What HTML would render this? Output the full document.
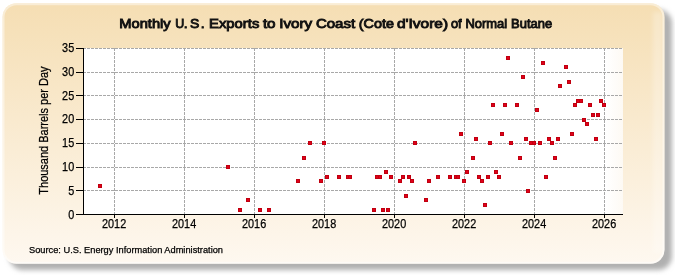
<!DOCTYPE html>
<html><head><meta charset="utf-8"><style>
html,body{margin:0;padding:0;background:#fff;overflow:hidden;}
svg{display:block;will-change:transform;}
text{font-family:"Liberation Sans",sans-serif;fill:#000;stroke:#000;stroke-width:0.25px;}
</style></head><body>
<svg width="675" height="275" viewBox="0 0 675 275">
<defs>
<linearGradient id="pg" x1="0" y1="0" x2="1" y2="0"><stop offset="0" stop-color="#FBF3E6" stop-opacity="0"/><stop offset="1" stop-color="#FBF3E6" stop-opacity="0.45"/></linearGradient>
<linearGradient id="bg" x1="0" y1="0" x2="0" y2="1">
<stop offset="0" stop-color="#F5DEB3"/>
<stop offset="1" stop-color="#FEF8F0"/>
</linearGradient>
<filter id="sh" x="-5%" y="-5%" width="110%" height="115%">
<feGaussianBlur stdDeviation="2.6"/>
</filter>
<filter id="sb" x="-50%" y="-5%" width="200%" height="110%"><feGaussianBlur stdDeviation="2"/></filter>
<filter id="pb" x="-5%" y="-5%" width="110%" height="115%">
<feGaussianBlur stdDeviation="0.65"/>
</filter>
</defs>
<rect x="0" y="0" width="675" height="275" fill="#ffffff"/>
<rect x="9" y="9.5" width="663" height="260.5" rx="14" ry="14" fill="#b0b0b0" filter="url(#sh)"/>
<g filter="url(#pb)">
<rect x="2.5" y="3.2" width="662" height="260.6" rx="14" ry="14" fill="url(#bg)"/>
<rect x="653" y="12" width="10" height="240" fill="#ffffff" fill-opacity="0.25" filter="url(#sb)"/>
<rect x="3.5" y="4.2" width="660" height="258.6" rx="13" ry="13" fill="none" stroke="#ffffff" stroke-opacity="0.45" stroke-width="2"/>
</g>

<rect x="84" y="48" width="539" height="166" fill="#ffffff"/>
<rect x="606" y="48" width="17" height="166" fill="url(#pg)"/>
<g stroke="#a8a8a8" stroke-width="1" stroke-dasharray="3 1" shape-rendering="crispEdges"><line x1="83" y1="190.5" x2="623" y2="190.5"/><line x1="83" y1="167.5" x2="623" y2="167.5"/><line x1="83" y1="143.5" x2="623" y2="143.5"/><line x1="83" y1="119.5" x2="623" y2="119.5"/><line x1="83" y1="95.5" x2="623" y2="95.5"/><line x1="83" y1="72.5" x2="623" y2="72.5"/><line x1="83" y1="48.5" x2="623" y2="48.5"/><line x1="114.5" y1="48" x2="114.5" y2="214"/><line x1="184.5" y1="48" x2="184.5" y2="214"/><line x1="254.5" y1="48" x2="254.5" y2="214"/><line x1="324.5" y1="48" x2="324.5" y2="214"/><line x1="394.5" y1="48" x2="394.5" y2="214"/><line x1="464.5" y1="48" x2="464.5" y2="214"/><line x1="534.5" y1="48" x2="534.5" y2="214"/><line x1="604.5" y1="48" x2="604.5" y2="214"/></g>
<g fill="#000" shape-rendering="crispEdges"><rect x="83" y="48" width="1" height="167"/><rect x="83" y="214" width="540" height="1"/><rect x="76" y="214" width="7" height="1"/><rect x="76" y="190" width="7" height="1"/><rect x="76" y="167" width="7" height="1"/><rect x="76" y="143" width="7" height="1"/><rect x="76" y="119" width="7" height="1"/><rect x="76" y="95" width="7" height="1"/><rect x="76" y="72" width="7" height="1"/><rect x="76" y="48" width="7" height="1"/><rect x="114" y="215" width="1" height="3"/><rect x="184" y="215" width="1" height="3"/><rect x="254" y="215" width="1" height="3"/><rect x="324" y="215" width="1" height="3"/><rect x="394" y="215" width="1" height="3"/><rect x="464" y="215" width="1" height="3"/><rect x="534" y="215" width="1" height="3"/><rect x="604" y="215" width="1" height="3"/></g>
<g fill="#E0001A" stroke="#C0000F" stroke-width="1"><rect x="98.5" y="184.5" width="3" height="3"/><rect x="226.5" y="165.5" width="3" height="3"/><rect x="238.5" y="208.5" width="3" height="3"/><rect x="246.5" y="198.5" width="3" height="3"/><rect x="258.5" y="208.5" width="3" height="3"/><rect x="267.5" y="208.5" width="3" height="3"/><rect x="296.5" y="179.5" width="3" height="3"/><rect x="302.5" y="156.5" width="3" height="3"/><rect x="308.5" y="141.5" width="3" height="3"/><rect x="319.5" y="179.5" width="3" height="3"/><rect x="322.5" y="141.5" width="3" height="3"/><rect x="325.5" y="175.5" width="3" height="3"/><rect x="337.5" y="175.5" width="3" height="3"/><rect x="346.5" y="175.5" width="3" height="3"/><rect x="348.5" y="175.5" width="3" height="3"/><rect x="372.5" y="208.5" width="3" height="3"/><rect x="375.5" y="175.5" width="3" height="3"/><rect x="378.5" y="175.5" width="3" height="3"/><rect x="381.5" y="208.5" width="3" height="3"/><rect x="384.5" y="170.5" width="3" height="3"/><rect x="386.5" y="208.5" width="3" height="3"/><rect x="389.5" y="175.5" width="3" height="3"/><rect x="398.5" y="179.5" width="3" height="3"/><rect x="401.5" y="175.5" width="3" height="3"/><rect x="404.5" y="194.5" width="3" height="3"/><rect x="407.5" y="175.5" width="3" height="3"/><rect x="410.5" y="179.5" width="3" height="3"/><rect x="413.5" y="141.5" width="3" height="3"/><rect x="424.5" y="198.5" width="3" height="3"/><rect x="427.5" y="179.5" width="3" height="3"/><rect x="436.5" y="175.5" width="3" height="3"/><rect x="448.5" y="175.5" width="3" height="3"/><rect x="454.5" y="175.5" width="3" height="3"/><rect x="456.5" y="175.5" width="3" height="3"/><rect x="459.5" y="132.5" width="3" height="3"/><rect x="462.5" y="179.5" width="3" height="3"/><rect x="465.5" y="170.5" width="3" height="3"/><rect x="471.5" y="156.5" width="3" height="3"/><rect x="474.5" y="137.5" width="3" height="3"/><rect x="477.5" y="175.5" width="3" height="3"/><rect x="480.5" y="179.5" width="3" height="3"/><rect x="483.5" y="203.5" width="3" height="3"/><rect x="486.5" y="175.5" width="3" height="3"/><rect x="488.5" y="141.5" width="3" height="3"/><rect x="491.5" y="103.5" width="3" height="3"/><rect x="494.5" y="170.5" width="3" height="3"/><rect x="497.5" y="175.5" width="3" height="3"/><rect x="500.5" y="132.5" width="3" height="3"/><rect x="503.5" y="103.5" width="3" height="3"/><rect x="506.5" y="56.5" width="3" height="3"/><rect x="509.5" y="141.5" width="3" height="3"/><rect x="515.5" y="103.5" width="3" height="3"/><rect x="518.5" y="156.5" width="3" height="3"/><rect x="521.5" y="75.5" width="3" height="3"/><rect x="524.5" y="137.5" width="3" height="3"/><rect x="526.5" y="189.5" width="3" height="3"/><rect x="529.5" y="141.5" width="3" height="3"/><rect x="532.5" y="141.5" width="3" height="3"/><rect x="535.5" y="108.5" width="3" height="3"/><rect x="538.5" y="141.5" width="3" height="3"/><rect x="541.5" y="61.5" width="3" height="3"/><rect x="544.5" y="175.5" width="3" height="3"/><rect x="547.5" y="137.5" width="3" height="3"/><rect x="550.5" y="141.5" width="3" height="3"/><rect x="553.5" y="156.5" width="3" height="3"/><rect x="556.5" y="137.5" width="3" height="3"/><rect x="558.5" y="84.5" width="3" height="3"/><rect x="564.5" y="65.5" width="3" height="3"/><rect x="567.5" y="80.5" width="3" height="3"/><rect x="570.5" y="132.5" width="3" height="3"/><rect x="573.5" y="103.5" width="3" height="3"/><rect x="576.5" y="99.5" width="3" height="3"/><rect x="579.5" y="99.5" width="3" height="3"/><rect x="582.5" y="118.5" width="3" height="3"/><rect x="585.5" y="122.5" width="3" height="3"/><rect x="588.5" y="103.5" width="3" height="3"/><rect x="591.5" y="113.5" width="3" height="3"/><rect x="594.5" y="137.5" width="3" height="3"/><rect x="596.5" y="113.5" width="3" height="3"/><rect x="599.5" y="99.5" width="3" height="3"/><rect x="602.5" y="103.5" width="3" height="3"/></g>
<text x="74.2" y="218.75" font-size="12.4" text-anchor="end" textLength="6.05" lengthAdjust="spacingAndGlyphs">0</text><text x="74.2" y="194.75" font-size="12.4" text-anchor="end" textLength="6.05" lengthAdjust="spacingAndGlyphs">5</text><text x="74.2" y="170.75" font-size="12.4" text-anchor="end" textLength="12.10" lengthAdjust="spacingAndGlyphs">10</text><text x="74.2" y="146.75" font-size="12.4" text-anchor="end" textLength="12.10" lengthAdjust="spacingAndGlyphs">15</text><text x="74.2" y="122.75" font-size="12.4" text-anchor="end" textLength="12.10" lengthAdjust="spacingAndGlyphs">20</text><text x="74.2" y="99.75" font-size="12.4" text-anchor="end" textLength="12.10" lengthAdjust="spacingAndGlyphs">25</text><text x="74.2" y="75.75" font-size="12.4" text-anchor="end" textLength="12.10" lengthAdjust="spacingAndGlyphs">30</text><text x="74.2" y="51.75" font-size="12.4" text-anchor="end" textLength="12.10" lengthAdjust="spacingAndGlyphs">35</text><text x="114.10" y="228.0" font-size="12.4" text-anchor="middle" textLength="24.2" lengthAdjust="spacingAndGlyphs">2012</text><text x="184.10" y="228.0" font-size="12.4" text-anchor="middle" textLength="24.2" lengthAdjust="spacingAndGlyphs">2014</text><text x="254.10" y="228.0" font-size="12.4" text-anchor="middle" textLength="24.2" lengthAdjust="spacingAndGlyphs">2016</text><text x="324.10" y="228.0" font-size="12.4" text-anchor="middle" textLength="24.2" lengthAdjust="spacingAndGlyphs">2018</text><text x="394.10" y="228.0" font-size="12.4" text-anchor="middle" textLength="24.2" lengthAdjust="spacingAndGlyphs">2020</text><text x="464.10" y="228.0" font-size="12.4" text-anchor="middle" textLength="24.2" lengthAdjust="spacingAndGlyphs">2022</text><text x="534.10" y="228.0" font-size="12.4" text-anchor="middle" textLength="24.2" lengthAdjust="spacingAndGlyphs">2024</text><text x="604.10" y="228.0" font-size="12.4" text-anchor="middle" textLength="24.2" lengthAdjust="spacingAndGlyphs">2026</text>
<g style="fill:#111;stroke:#111;stroke-width:0.7px"><text x="119.30" y="28.2" font-size="13" font-weight="normal" textLength="51.40" lengthAdjust="spacingAndGlyphs" style="fill:#111;stroke:#111;stroke-width:0.9px">Monthly</text><text x="175.30" y="28.2" font-size="13" font-weight="normal" textLength="9.00" lengthAdjust="spacingAndGlyphs" style="fill:#111;stroke:#111;stroke-width:0.9px">U</text><text x="183.80" y="28.2" font-size="13" font-weight="normal" textLength="3.90" lengthAdjust="spacingAndGlyphs" style="fill:#111;stroke:#111;stroke-width:0.9px">.</text><text x="190.10" y="28.2" font-size="13" font-weight="normal" textLength="9.30" lengthAdjust="spacingAndGlyphs" style="fill:#111;stroke:#111;stroke-width:0.9px">S</text><text x="200.70" y="28.2" font-size="13" font-weight="normal" textLength="3.90" lengthAdjust="spacingAndGlyphs" style="fill:#111;stroke:#111;stroke-width:0.9px">.</text><text x="209.10" y="28.2" font-size="13" font-weight="normal" textLength="50.20" lengthAdjust="spacingAndGlyphs" style="fill:#111;stroke:#111;stroke-width:0.9px">Exports</text><text x="262.90" y="28.2" font-size="13" font-weight="normal" textLength="12.70" lengthAdjust="spacingAndGlyphs" style="fill:#111;stroke:#111;stroke-width:0.9px">to</text><text x="279.20" y="28.2" font-size="13" font-weight="normal" textLength="33.00" lengthAdjust="spacingAndGlyphs" style="fill:#111;stroke:#111;stroke-width:0.9px">Ivory</text><text x="315.90" y="28.2" font-size="13" font-weight="normal" textLength="39.30" lengthAdjust="spacingAndGlyphs" style="fill:#111;stroke:#111;stroke-width:0.9px">Coast</text><text x="358.80" y="28.2" font-size="13" font-weight="normal" textLength="35.20" lengthAdjust="spacingAndGlyphs" style="fill:#111;stroke:#111;stroke-width:0.9px">(Cote</text><text x="397.00" y="28.2" font-size="13" font-weight="normal" textLength="51.10" lengthAdjust="spacingAndGlyphs" style="fill:#111;stroke:#111;stroke-width:0.9px">d&#39;Ivore)</text><text x="450.90" y="28.2" font-size="13" font-weight="normal" textLength="10.70" lengthAdjust="spacingAndGlyphs" style="fill:#111;stroke:#111;stroke-width:0.9px">of</text><text x="465.50" y="28.2" font-size="13" font-weight="normal" textLength="41.70" lengthAdjust="spacingAndGlyphs" style="fill:#111;stroke:#111;stroke-width:0.9px">Normal</text><text x="511.10" y="28.2" font-size="13" font-weight="normal" textLength="41.10" lengthAdjust="spacingAndGlyphs" style="fill:#111;stroke:#111;stroke-width:0.9px">Butane</text></g>
<text transform="translate(47.6,194.7) rotate(-90)" x="0" y="0" font-size="12" textLength="128.3" lengthAdjust="spacingAndGlyphs">Thousand Barrels per Day</text>
<text x="29" y="252.6" font-size="9.3" textLength="194" lengthAdjust="spacingAndGlyphs">Source: U.S. Energy Information Administration</text>
</svg></body></html>
